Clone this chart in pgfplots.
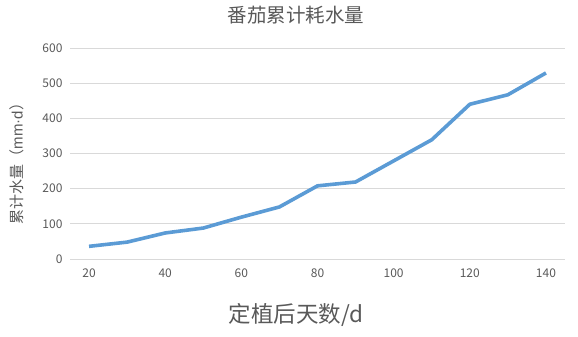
\documentclass[border=0pt]{standalone}
\usepackage{fontspec}
\setmainfont{Noto Sans CJK SC}
\newfontfamily\latinfont{Liberation Sans}
\usepackage{pgfplots}
\pgfplotsset{compat=1.18}
\definecolor{linblue}{HTML}{5B9BD5}
\definecolor{txtgray}{HTML}{595959}
\definecolor{gridgray}{HTML}{D9D9D9}
\begin{document}
\begin{tikzpicture}[x=1pt,y=1pt]
\path (0,0) rectangle (578,337);
\begin{axis}[
  at={(70pt,78pt)}, anchor=south west,
  scale only axis, width=495pt, height=211pt,
  xmin=15, xmax=145, ymin=0, ymax=600,
  xtick={20,40,...,140}, ytick={0,100,...,600},
  axis line style={draw=none},
  major tick length=0pt,
  ymajorgrids, grid style={gridgray, line width=0.8pt},
  xmajorgrids=false,
  tick label style={font=\fontsize{12}{12}\selectfont, text=txtgray},
  /pgf/number format/assume math mode=true,
  xticklabel style={yshift=-6pt},
  yticklabel style={xshift=-4pt},
  clip=false,
]
\addplot[linblue, line width=3.6pt, line join=round] coordinates {
  (20,36) (30,48) (40,74) (50,88) (60,119) (70,148) (80,208)
  (90,219) (100,279) (110,339) (120,440) (130,467) (140,529)
};
\end{axis}
\node[text=txtgray, font=\fontsize{19.5}{19.5}\selectfont] at (296,322) {番茄累计耗水量};
\node[text=txtgray, font=\fontsize{22.5}{22.5}\selectfont] at (296,22) {定植后天数/d};
\node[text=txtgray, font=\fontsize{15}{15}\selectfont, rotate=90] at (17,177) {累计水量（{\latinfont mm·d}）};
\end{tikzpicture}
\end{document}
